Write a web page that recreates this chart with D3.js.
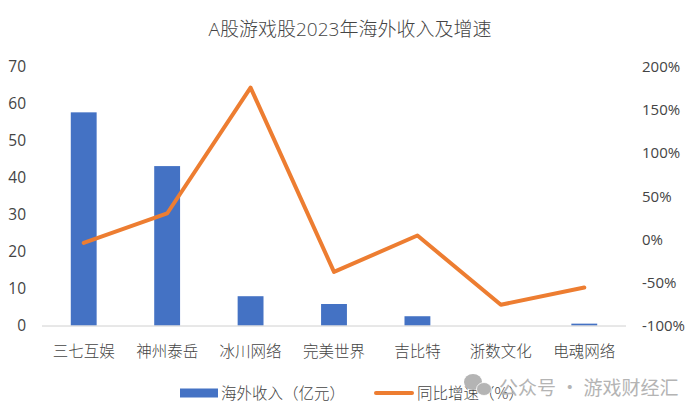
<!DOCTYPE html>
<html>
<head>
<meta charset="utf-8">
<title>A股游戏股2023年海外收入及增速</title>
<script src="https://d3js.org/d3.v7.min.js"></script>
<style>
    html, body { margin: 0; padding: 0; background: #fff; }
    svg { display: block; }
    text { font-family: "Open Sans", "Noto Sans CJK SC", sans-serif; fill: #444; }
    .cjk { font-family: "Noto Sans CJK SC", sans-serif; font-weight: 300; }
</style>
</head>
<body>
<svg id="chart"></svg>
<script>
const categories = ["三七互娱", "神州泰岳", "冰川网络", "完美世界", "吉比特", "浙数文化", "电魂网络"];
const revenue = [57.5, 43, 7.9, 5.8, 2.5, 0, 0.5];
const growth = [-4.5, 29.5, 175, -38, 4, -76, -56];
const leftTicks = [0, 10, 20, 30, 40, 50, 60, 70];
const rightTicks = [-100, -50, 0, 50, 100, 150, 200];

const width = 700, height = 415;
const svg = d3.select("#chart").attr("width", width).attr("height", height);

const x = d3.scaleBand().domain(categories).range([42, 626]).paddingInner(0.69).paddingOuter(0.345);
const yLeft = d3.scaleLinear().domain([0, 70]).range([325.5, 66]);
const yRight = d3.scaleLinear().domain([-100, 200]).range([325.5, 66]);

// title
svg.append("text")
    .attr("x", 350).attr("y", 36)
    .attr("text-anchor", "middle")
    .style("font-size", "19px")
    .style("font-weight", 300)
    .text("A股游戏股2023年海外收入及增速");

// bars
svg.append("g").selectAll("rect")
    .data(categories)
    .enter().append("rect")
    .attr("x", d => x(d))
    .attr("width", x.bandwidth())
    .attr("y", (d, i) => yLeft(revenue[i]))
    .attr("height", (d, i) => yLeft(0) - yLeft(revenue[i]))
    .attr("fill", "#4472c4");

// baseline
svg.append("line")
    .attr("x1", 42).attr("x2", 626)
    .attr("y1", yLeft(0) + 0.5).attr("y2", yLeft(0) + 0.5)
    .attr("stroke", "#d0d0d0").attr("stroke-width", 1);

// growth line
const line = d3.line()
    .x(d => x(d) + x.bandwidth() / 2)
    .y((d, i) => yRight(growth[i]));

svg.append("path")
    .datum(categories)
    .attr("d", line)
    .attr("fill", "none")
    .attr("stroke", "#ed7d31")
    .attr("stroke-width", 4)
    .attr("stroke-linecap", "round")
    .attr("stroke-linejoin", "round");

// left axis labels
svg.append("g").selectAll("text")
    .data(leftTicks)
    .enter().append("text")
    .attr("x", 26).attr("y", d => yLeft(d) + 0.5)
    .attr("dy", "0.35em")
    .attr("text-anchor", "end")
    .style("font-size", "15.5px")
    .text(d => d);

// right axis labels
svg.append("g").selectAll("text")
    .data(rightTicks)
    .enter().append("text")
    .attr("x", 642).attr("y", d => yRight(d) + 0.5)
    .attr("dy", "0.35em")
    .style("font-size", "15px")
    .text(d => d + "%");

// category labels
svg.append("g").selectAll("text")
    .data(categories)
    .enter().append("text")
    .attr("class", "cjk")
    .attr("x", d => x(d) + x.bandwidth() / 2)
    .attr("y", 357)
    .attr("text-anchor", "middle")
    .style("font-size", "15.5px")
    .text(d => d);

// legend
svg.append("rect")
    .attr("x", 180).attr("y", 388.5)
    .attr("width", 38).attr("height", 9)
    .attr("fill", "#4472c4");
svg.append("text").attr("class", "cjk")
    .attr("x", 221).attr("y", 399)
    .style("font-size", "15.5px")
    .text("海外收入（亿元）");
svg.append("line")
    .attr("x1", 376).attr("x2", 412)
    .attr("y1", 393).attr("y2", 393)
    .attr("stroke", "#ed7d31").attr("stroke-width", 4)
    .attr("stroke-linecap", "round");
svg.append("text").attr("class", "cjk")
    .attr("x", 417).attr("y", 399)
    .style("font-size", "15.5px")
    .text("同比增速（%）");

// watermark
const mark = svg.append("g").attr("fill", "#b4b4b4");
mark.append("ellipse").attr("cx", 473).attr("cy", 382).attr("rx", 9).attr("ry", 8);
mark.append("ellipse").attr("cx", 484).attr("cy", 389).attr("rx", 7.5).attr("ry", 6.5).attr("stroke", "#fff").attr("stroke-width", 0.8);
svg.append("text").attr("class", "cjk")
    .attr("x", 499).attr("y", 395)
    .style("font-size", "19px")
    .style("font-weight", 400)
    .style("fill", "#b4b4b4")
    .text("公众号\u00a0·\u00a0游戏财经汇");
</script>
</body>
</html>
